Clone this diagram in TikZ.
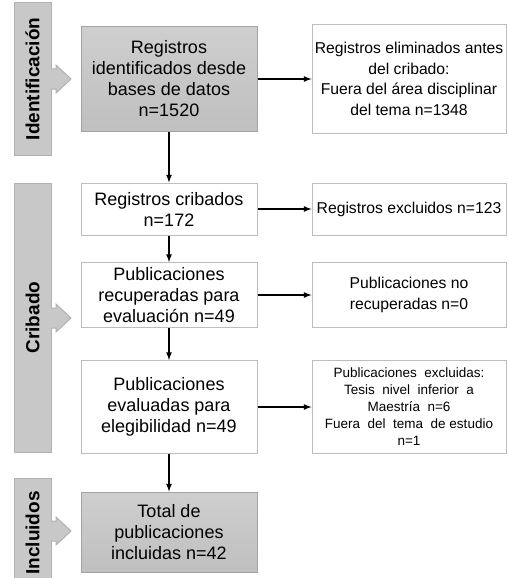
\documentclass[tikz,border=0pt]{standalone}
\usepackage{fontspec}
\setmainfont{Liberation Sans}
\usetikzlibrary{arrows}

\definecolor{barfill}{HTML}{C8C8C8}
\definecolor{barline}{HTML}{B2B2B2}
\definecolor{boxline}{HTML}{BDBDBD}
\definecolor{grayline}{HTML}{A3A3A3}

\tikzset{
  graybox/.style={draw=grayline,line width=1pt,top color=gray!38,bottom color=gray!50,
    minimum width=176pt,align=center,inner sep=2pt,font=\fontsize{18}{21}\selectfont},
  whitebox/.style={draw=boxline,line width=1pt,fill=white,minimum width=176pt,
    align=center,inner sep=2pt,font=\fontsize{18}{21}\selectfont},
  notebox/.style={draw=boxline,line width=1pt,fill=white,minimum width=194pt,
    align=center,inner sep=2pt,font=\fontsize{15.7}{20.5}\selectfont},
  sidebar/.style={draw=barline,line width=1pt,fill=barfill,rotate=90,minimum height=37pt,
    inner sep=0pt,font=\fontsize{19}{22}\selectfont\bfseries},
  chevron/.style={draw=barline,line width=1pt,fill=barfill},
  flow/.style={->,>=latex,line width=1.6pt}
}

\begin{document}
\begin{tikzpicture}[x=1pt,y=-1pt]
  \useasboundingbox (0,0) rectangle (507,578);
  %etapas
  \node (sid) at (32.5,79) [sidebar,minimum width=152pt]{Identificación};
  \node (scr) at (32.5,317.5) [sidebar,minimum width=269pt]{Cribado};
  \node (sin) at (32.5,533) [sidebar,minimum width=110pt]{Incluidos};
  \foreach \c in {79,318,531}
    \path[chevron] (51,\c-10)--(56,\c-10)--(56,\c-14)--(71,\c)--(56,\c+14)--(56,\c+10)--(51,\c+10);

  %columna principal
  \node (reg) at (169,79) [graybox,minimum height=105pt]{Registros\\identificados desde\\bases de datos\\n=1520};
  \node (crib) at (169,209) [whitebox,minimum height=52pt]{Registros cribados\\n=172};
  \node (recu) at (169,295) [whitebox,minimum height=65pt]{Publicaciones\\recuperadas para\\evaluación n=49};
  \node (eval) at (169,407) [whitebox,minimum height=93pt]{Publicaciones\\evaluadas para\\elegibilidad n=49};
  \node (tot) at (169,532) [graybox,minimum height=80pt]{Total de\\publicaciones\\incluidas n=42};

  %columna de exclusiones
  \node (elim) at (409,79) [notebox,minimum height=108pt]{Registros eliminados antes\\del cribado:\\Fuera del área disciplinar\\del tema n=1348};
  \node (excl) at (409,209) [notebox,minimum height=52pt]{Registros excluidos n=123};
  \node (nrec) at (409,295) [notebox,minimum height=65pt]{Publicaciones no\\recuperadas n=0};
  \node (pexc) at (409,407) [notebox,minimum height=93pt,font=\fontsize{13.5}{17}\selectfont]{Publicaciones\ \ excluidas:\\Tesis\ \ nivel\ \ inferior\ \ a\\Maestría\ \ n=6\\Fuera\ \ del\ \ tema\ \ de estudio\\n=1};

  %flechas
  \draw[flow] (reg.east)--(elim.west);
  \draw[flow] (crib.east)--(excl.west);
  \draw[flow] (recu.east)--(nrec.west);
  \draw[flow] (eval.east)--(pexc.west);
  \draw[flow] (reg.south)--(crib.north);
  \draw[flow] (crib.south)--(recu.north);
  \draw[flow] (recu.south)--(eval.north);
  \draw[flow] (eval.south)--(tot.north);
\end{tikzpicture}
\end{document}
